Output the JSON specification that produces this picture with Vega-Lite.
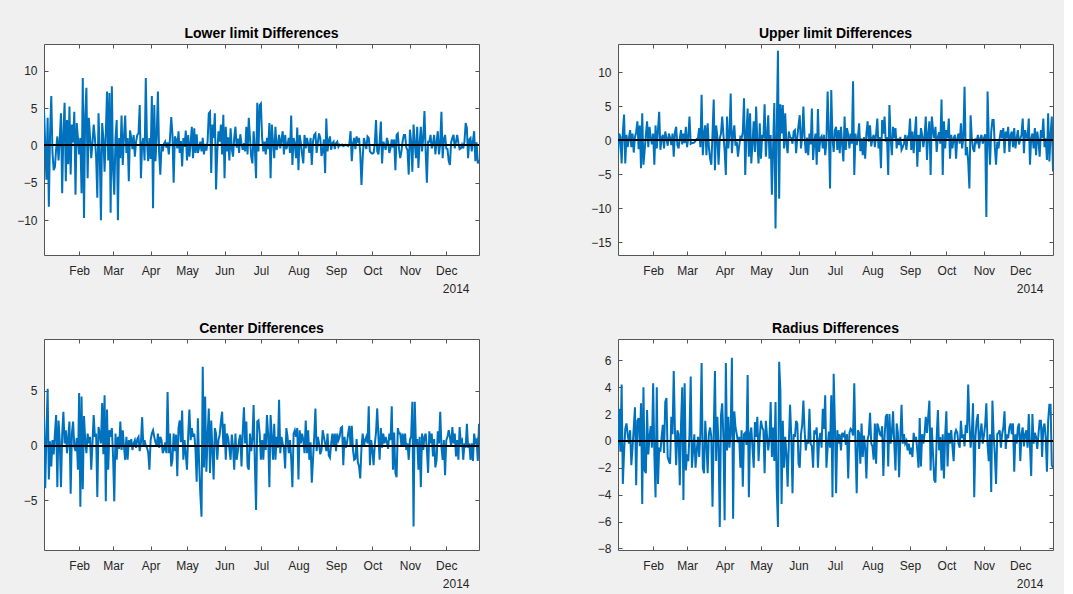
{
"$schema":"https://vega.github.io/schema/vega-lite/v6.json",
"padding":{"left":16,"top":26,"right":10,"bottom":4},
"bounds":"flush",
"columns":2,
"spacing":{"row":84,"column":139},
"datasets":{"d":[
{"t":"2014-01-03","a":4.8,"b":-2.2,"c":2.5,"r":-0.6},
{"t":"2014-01-04","a":0.2,"b":1.0,"c":-3.9,"r":2.4},
{"t":"2014-01-05","a":-4.6,"b":0.5,"c":1.0,"r":-0.8},
{"t":"2014-01-06","a":3.7,"b":-3.4,"c":5.2,"r":4.2},
{"t":"2014-01-07","a":-8.2,"b":1.2,"c":-3.1,"r":-3.2},
{"t":"2014-01-08","a":1.5,"b":3.8,"c":0.4,"r":-0.9},
{"t":"2014-01-09","a":6.6,"b":-3.4,"c":-1.9,"r":0.9},
{"t":"2014-01-10","a":-1.0,"b":0.8,"c":0.5,"r":1.3},
{"t":"2014-01-11","a":-3.3,"b":-1.0,"c":-0.8,"r":0.5},
{"t":"2014-01-12","a":-2.9,"b":0.3,"c":1.1,"r":-0.2},
{"t":"2014-01-13","a":-0.5,"b":1.5,"c":2.8,"r":0.8},
{"t":"2014-01-14","a":1.2,"b":-1.0,"c":-3.8,"r":-1.8},
{"t":"2014-01-15","a":-2.0,"b":1.0,"c":2.3,"r":-0.5},
{"t":"2014-01-16","a":0.9,"b":-1.8,"c":0.4,"r":1.0},
{"t":"2014-01-17","a":4.3,"b":0.5,"c":-3.8,"r":2.5},
{"t":"2014-01-18","a":-6.4,"b":1.2,"c":1.0,"r":-3.3},
{"t":"2014-01-19","a":1.8,"b":2.8,"c":3.1,"r":1.5},
{"t":"2014-01-20","a":5.7,"b":-1.3,"c":0.2,"r":1.7},
{"t":"2014-01-21","a":-4.8,"b":2.2,"c":1.4,"r":-0.4},
{"t":"2014-01-22","a":3.4,"b":-4.1,"c":-0.7,"r":2.8},
{"t":"2014-01-23","a":-2.5,"b":4.0,"c":0.8,"r":-4.7},
{"t":"2014-01-24","a":5.2,"b":-3.6,"c":2.2,"r":4.0},
{"t":"2014-01-25","a":-3.9,"b":-1.5,"c":-4.4,"r":-2.2},
{"t":"2014-01-26","a":2.8,"b":0.8,"c":1.1,"r":-2.4},
{"t":"2014-01-27","a":0.4,"b":2.8,"c":2.2,"r":2.3},
{"t":"2014-01-28","a":4.5,"b":-1.0,"c":-0.1,"r":-1.0},
{"t":"2014-01-29","a":-6.6,"b":2.0,"c":-0.5,"r":0.3},
{"t":"2014-01-30","a":3.0,"b":0.5,"c":0.7,"r":1.1},
{"t":"2014-01-31","a":1.0,"b":-0.6,"c":-2.2,"r":-0.5},
{"t":"2014-02-01","a":-1.2,"b":1.0,"c":4.8,"r":4.3},
{"t":"2014-02-02","a":1.0,"b":-3.6,"c":-5.6,"r":-1.0},
{"t":"2014-02-03","a":-6.4,"b":2.2,"c":4.5,"r":-4.2},
{"t":"2014-02-04","a":9.0,"b":-1.2,"c":-4.0,"r":4.0},
{"t":"2014-02-05","a":-9.7,"b":1.5,"c":2.7,"r":-3.2},
{"t":"2014-02-06","a":4.0,"b":4.2,"c":0.5,"r":-0.5},
{"t":"2014-02-07","a":7.7,"b":-1.4,"c":-0.7,"r":-0.8},
{"t":"2014-02-08","a":-4.4,"b":0.3,"c":1.1,"r":0.3},
{"t":"2014-02-09","a":3.7,"b":0.8,"c":0.2,"r":1.2},
{"t":"2014-02-10","a":1.2,"b":-1.2,"c":0.8,"r":-0.9},
{"t":"2014-02-11","a":-1.7,"b":1.3,"c":-2.2,"r":2.9},
{"t":"2014-02-12","a":0.3,"b":0.3,"c":0.2,"r":3.2},
{"t":"2014-02-13","a":2.8,"b":-0.8,"c":2.8,"r":-1.2},
{"t":"2014-02-14","a":1.0,"b":1.0,"c":0.8,"r":-1.5},
{"t":"2014-02-15","a":-1.5,"b":0.4,"c":1.1,"r":-1.7},
{"t":"2014-02-16","a":-7.0,"b":-0.7,"c":-4.7,"r":1.8},
{"t":"2014-02-17","a":4.3,"b":1.0,"c":1.7,"r":0.5},
{"t":"2014-02-18","a":-1.0,"b":-2.4,"c":1.1,"r":5.2},
{"t":"2014-02-19","a":-10.0,"b":1.2,"c":0.2,"r":0.8},
{"t":"2014-02-20","a":3.0,"b":2.0,"c":3.9,"r":-1.8},
{"t":"2014-02-21","a":1.0,"b":-0.7,"c":-0.8,"r":0.8},
{"t":"2014-02-22","a":-3.5,"b":-1.2,"c":4.6,"r":0.5},
{"t":"2014-02-23","a":1.5,"b":0.3,"c":-5.1,"r":-3.3},
{"t":"2014-02-24","a":7.2,"b":1.5,"c":3.3,"r":1.2},
{"t":"2014-02-25","a":-2.0,"b":-0.6,"c":-2.2,"r":4.0},
{"t":"2014-02-26","a":7.0,"b":1.0,"c":1.4,"r":-4.4},
{"t":"2014-02-27","a":-9.0,"b":-0.4,"c":0.8,"r":4.3},
{"t":"2014-02-28","a":7.9,"b":2.0,"c":1.6,"r":-2.2},
{"t":"2014-03-01","a":-3.3,"b":-1.0,"c":-1.0,"r":-1.0},
{"t":"2014-03-02","a":-6.6,"b":0.4,"c":-5.1,"r":-1.5},
{"t":"2014-03-03","a":1.0,"b":3.5,"c":1.1,"r":0.5},
{"t":"2014-03-04","a":3.4,"b":-0.5,"c":-1.3,"r":4.8},
{"t":"2014-03-05","a":-10.0,"b":-0.4,"c":0.8,"r":-2.0},
{"t":"2014-03-06","a":1.0,"b":-0.4,"c":-0.3,"r":-0.7},
{"t":"2014-03-07","a":-1.7,"b":-0.3,"c":2.2,"r":0.5},
{"t":"2014-03-08","a":4.0,"b":-0.1,"c":-0.4,"r":-2.0},
{"t":"2014-03-09","a":-2.6,"b":0.2,"c":1.4,"r":-0.7},
{"t":"2014-03-10","a":1.2,"b":0.3,"c":-0.1,"r":0.3},
{"t":"2014-03-11","a":4.0,"b":1.8,"c":-1.3,"r":-1.2},
{"t":"2014-03-12","a":-1.0,"b":-1.0,"c":0.8,"r":0.6},
{"t":"2014-03-13","a":1.0,"b":6.7,"c":-1.3,"r":5.8},
{"t":"2014-03-14","a":-4.8,"b":-2.2,"c":0.5,"r":-2.0},
{"t":"2014-03-15","a":2.0,"b":1.0,"c":-0.1,"r":-2.4},
{"t":"2014-03-16","a":1.0,"b":2.2,"c":0.6,"r":1.5},
{"t":"2014-03-17","a":-0.5,"b":-2.2,"c":-0.4,"r":-0.2},
{"t":"2014-03-18","a":1.4,"b":2.5,"c":0.2,"r":-2.4},
{"t":"2014-03-19","a":-1.5,"b":-1.0,"c":0.5,"r":0.5},
{"t":"2014-03-20","a":0.5,"b":-2.7,"c":-0.2,"r":1.0},
{"t":"2014-03-21","a":1.4,"b":-3.6,"c":0.6,"r":0.3},
{"t":"2014-03-22","a":1.6,"b":1.0,"c":0.8,"r":-4.9},
{"t":"2014-03-23","a":5.4,"b":6.0,"c":-0.5,"r":0.6},
{"t":"2014-03-24","a":-4.4,"b":-4.4,"c":0.3,"r":5.2},
{"t":"2014-03-25","a":0.3,"b":2.2,"c":2.6,"r":-1.5},
{"t":"2014-03-26","a":1.0,"b":0.5,"c":-0.1,"r":1.8},
{"t":"2014-03-27","a":-2.0,"b":-3.6,"c":0.5,"r":-0.4},
{"t":"2014-03-28","a":9.0,"b":0.3,"c":0.0,"r":-6.4},
{"t":"2014-03-29","a":0.5,"b":1.0,"c":-0.2,"r":1.9},
{"t":"2014-03-30","a":-2.1,"b":3.5,"c":-0.6,"r":2.8},
{"t":"2014-03-31","a":1.0,"b":0.8,"c":-2.2,"r":0.2},
{"t":"2014-04-01","a":-1.8,"b":-1.5,"c":0.5,"r":-5.9},
{"t":"2014-04-02","a":6.6,"b":-5.1,"c":1.1,"r":5.8},
{"t":"2014-04-03","a":-8.4,"b":3.5,"c":1.4,"r":-0.7},
{"t":"2014-04-04","a":5.4,"b":-1.2,"c":0.8,"r":1.8},
{"t":"2014-04-05","a":-2.1,"b":0.8,"c":0.3,"r":-0.5},
{"t":"2014-04-06","a":1.2,"b":6.9,"c":-0.1,"r":0.8},
{"t":"2014-04-07","a":7.2,"b":-1.9,"c":1.1,"r":6.2},
{"t":"2014-04-08","a":-1.0,"b":0.8,"c":-0.2,"r":-5.8},
{"t":"2014-04-09","a":-3.9,"b":2.2,"c":0.8,"r":2.2},
{"t":"2014-04-10","a":0.1,"b":-0.8,"c":0.5,"r":1.0},
{"t":"2014-04-11","a":-0.8,"b":-0.2,"c":-0.7,"r":0.5},
{"t":"2014-04-12","a":0.2,"b":-2.4,"c":-0.4,"r":-0.1},
{"t":"2014-04-13","a":0.5,"b":-0.9,"c":0.3,"r":0.3},
{"t":"2014-04-14","a":-0.3,"b":0.5,"c":-0.7,"r":-2.0},
{"t":"2014-04-15","a":0.4,"b":0.3,"c":4.9,"r":0.8},
{"t":"2014-04-16","a":-1.2,"b":1.2,"c":-0.7,"r":-3.4},
{"t":"2014-04-17","a":1.0,"b":6.2,"c":1.1,"r":0.5},
{"t":"2014-04-18","a":3.8,"b":-5.1,"c":-1.9,"r":0.6},
{"t":"2014-04-19","a":1.5,"b":1.0,"c":-1.3,"r":-0.3},
{"t":"2014-04-20","a":-5.0,"b":4.7,"c":1.1,"r":4.9},
{"t":"2014-04-21","a":1.2,"b":-2.4,"c":-0.5,"r":-4.2},
{"t":"2014-04-22","a":0.8,"b":4.0,"c":1.0,"r":0.5},
{"t":"2014-04-23","a":-0.4,"b":-3.4,"c":-2.8,"r":1.0},
{"t":"2014-04-24","a":1.9,"b":-0.5,"c":1.6,"r":-0.5},
{"t":"2014-04-25","a":-1.0,"b":2.8,"c":2.3,"r":-2.0},
{"t":"2014-04-26","a":0.6,"b":-1.7,"c":0.3,"r":1.4},
{"t":"2014-04-27","a":-2.8,"b":5.0,"c":3.2,"r":0.3},
{"t":"2014-04-28","a":1.0,"b":-0.4,"c":-1.3,"r":1.8},
{"t":"2014-04-29","a":-0.2,"b":-3.4,"c":0.5,"r":-1.5},
{"t":"2014-04-30","a":2.0,"b":2.5,"c":-0.8,"r":0.3},
{"t":"2014-05-01","a":-2.0,"b":-2.7,"c":-2.2,"r":1.5},
{"t":"2014-05-02","a":1.4,"b":0.8,"c":1.0,"r":1.0},
{"t":"2014-05-03","a":-1.5,"b":0.3,"c":3.3,"r":0.8},
{"t":"2014-05-04","a":0.3,"b":5.3,"c":0.5,"r":-2.4},
{"t":"2014-05-05","a":2.5,"b":-2.4,"c":1.6,"r":1.5},
{"t":"2014-05-06","a":-1.7,"b":0.7,"c":0.8,"r":0.4},
{"t":"2014-05-07","a":2.3,"b":3.7,"c":1.1,"r":-0.7},
{"t":"2014-05-08","a":-1.0,"b":-2.7,"c":-0.3,"r":0.2},
{"t":"2014-05-09","a":1.5,"b":0.8,"c":-3.3,"r":2.9},
{"t":"2014-05-10","a":-1.0,"b":-8.0,"c":2.5,"r":-1.2},
{"t":"2014-05-11","a":-0.3,"b":-1.0,"c":-1.5,"r":1.0},
{"t":"2014-05-12","a":0.5,"b":5.5,"c":-4.4,"r":-1.5},
{"t":"2014-05-13","a":-0.8,"b":-13.0,"c":-6.5,"r":2.9},
{"t":"2014-05-14","a":1.0,"b":1.5,"c":7.2,"r":-3.5},
{"t":"2014-05-15","a":-1.2,"b":13.2,"c":-2.0,"r":-6.4},
{"t":"2014-05-16","a":0.2,"b":-8.6,"c":4.5,"r":5.9},
{"t":"2014-05-17","a":-0.7,"b":5.3,"c":-2.4,"r":3.8},
{"t":"2014-05-18","a":0.5,"b":1.0,"c":0.8,"r":-4.7},
{"t":"2014-05-19","a":4.3,"b":5.2,"c":3.4,"r":1.5},
{"t":"2014-05-20","a":4.5,"b":-1.2,"c":-2.5,"r":-2.0},
{"t":"2014-05-21","a":-3.7,"b":4.0,"c":2.3,"r":0.3},
{"t":"2014-05-22","a":2.8,"b":-0.6,"c":-0.5,"r":-1.0},
{"t":"2014-05-23","a":1.0,"b":-1.9,"c":-3.1,"r":-3.4},
{"t":"2014-05-24","a":4.3,"b":1.3,"c":1.6,"r":-0.1},
{"t":"2014-05-25","a":-5.9,"b":0.5,"c":1.1,"r":2.7},
{"t":"2014-05-26","a":-0.8,"b":0.3,"c":-1.3,"r":0.4},
{"t":"2014-05-27","a":1.9,"b":-0.5,"c":0.5,"r":-3.9},
{"t":"2014-05-28","a":0.5,"b":1.3,"c":1.0,"r":0.5},
{"t":"2014-05-29","a":2.8,"b":1.5,"c":2.2,"r":0.3},
{"t":"2014-05-30","a":-1.2,"b":-1.9,"c":3.1,"r":1.5},
{"t":"2014-05-31","a":4.1,"b":0.5,"c":-0.1,"r":1.3},
{"t":"2014-06-01","a":-4.4,"b":2.2,"c":2.0,"r":-1.7},
{"t":"2014-06-02","a":2.5,"b":3.7,"c":-1.3,"r":-2.0},
{"t":"2014-06-03","a":-0.8,"b":-1.2,"c":1.1,"r":0.5},
{"t":"2014-06-04","a":1.1,"b":0.6,"c":0.7,"r":1.2},
{"t":"2014-06-05","a":-2.0,"b":5.0,"c":-0.3,"r":3.0},
{"t":"2014-06-06","a":2.3,"b":0.3,"c":-1.3,"r":0.8},
{"t":"2014-06-07","a":-0.5,"b":-1.9,"c":1.0,"r":-0.7},
{"t":"2014-06-08","a":-1.5,"b":0.4,"c":-0.1,"r":0.1},
{"t":"2014-06-09","a":1.0,"b":-2.2,"c":-2.2,"r":-0.2},
{"t":"2014-06-10","a":2.5,"b":1.0,"c":1.1,"r":2.4},
{"t":"2014-06-11","a":-0.3,"b":-0.6,"c":-1.3,"r":-0.2},
{"t":"2014-06-12","a":0.9,"b":4.7,"c":-0.5,"r":-0.4},
{"t":"2014-06-13","a":-1.0,"b":-2.9,"c":0.5,"r":-2.0},
{"t":"2014-06-14","a":1.5,"b":-0.2,"c":1.0,"r":0.8},
{"t":"2014-06-15","a":0.2,"b":1.0,"c":-1.9,"r":0.5},
{"t":"2014-06-16","a":-0.6,"b":-3.6,"c":1.2,"r":1.0},
{"t":"2014-06-17","a":0.3,"b":4.6,"c":3.5,"r":-2.0},
{"t":"2014-06-18","a":-0.8,"b":-1.7,"c":0.2,"r":0.1},
{"t":"2014-06-19","a":2.5,"b":0.3,"c":2.2,"r":0.6},
{"t":"2014-06-20","a":-1.2,"b":0.6,"c":-1.9,"r":-0.5},
{"t":"2014-06-21","a":3.7,"b":-1.2,"c":-2.2,"r":2.4},
{"t":"2014-06-22","a":1.0,"b":0.8,"c":1.1,"r":0.9},
{"t":"2014-06-23","a":-1.5,"b":-2.2,"c":-0.5,"r":3.4},
{"t":"2014-06-24","a":-2.4,"b":-0.2,"c":0.6,"r":-2.0},
{"t":"2014-06-25","a":1.9,"b":7.2,"c":3.7,"r":-0.5},
{"t":"2014-06-26","a":-0.4,"b":1.0,"c":-1.5,"r":0.7},
{"t":"2014-06-27","a":-4.4,"b":-7.1,"c":-5.9,"r":-0.5},
{"t":"2014-06-28","a":5.7,"b":7.4,"c":2.2,"r":3.4},
{"t":"2014-06-29","a":-0.8,"b":0.3,"c":2.3,"r":-4.2},
{"t":"2014-06-30","a":5.4,"b":-1.7,"c":1.1,"r":5.0},
{"t":"2014-07-01","a":5.6,"b":1.5,"c":-1.3,"r":1.3},
{"t":"2014-07-02","a":1.0,"b":2.0,"c":0.5,"r":-3.9},
{"t":"2014-07-03","a":-0.8,"b":-1.4,"c":-1.3,"r":0.8},
{"t":"2014-07-04","a":0.5,"b":1.5,"c":1.1,"r":-0.2},
{"t":"2014-07-05","a":-1.2,"b":-1.9,"c":-0.4,"r":0.5},
{"t":"2014-07-06","a":1.0,"b":2.0,"c":2.8,"r":-0.7},
{"t":"2014-07-07","a":-0.5,"b":-0.6,"c":1.0,"r":0.6},
{"t":"2014-07-08","a":3.0,"b":-3.1,"c":-3.8,"r":0.4},
{"t":"2014-07-09","a":-4.4,"b":3.5,"c":2.8,"r":0.6},
{"t":"2014-07-10","a":2.8,"b":-1.4,"c":0.9,"r":-0.3},
{"t":"2014-07-11","a":0.4,"b":1.8,"c":-1.3,"r":0.5},
{"t":"2014-07-12","a":-1.7,"b":0.8,"c":2.0,"r":-2.8},
{"t":"2014-07-13","a":2.5,"b":-1.2,"c":-1.3,"r":0.6},
{"t":"2014-07-14","a":-0.6,"b":1.0,"c":0.8,"r":0.9},
{"t":"2014-07-15","a":0.1,"b":-0.5,"c":-0.2,"r":0.8},
{"t":"2014-07-16","a":1.4,"b":8.7,"c":4.2,"r":0.4},
{"t":"2014-07-17","a":-0.4,"b":-5.1,"c":-0.7,"r":4.3},
{"t":"2014-07-18","a":0.8,"b":1.0,"c":0.8,"r":-0.5},
{"t":"2014-07-19","a":1.9,"b":-0.7,"c":0.2,"r":-3.9},
{"t":"2014-07-20","a":-1.2,"b":0.4,"c":-0.2,"r":0.8},
{"t":"2014-07-21","a":1.4,"b":2.5,"c":-2.1,"r":0.6},
{"t":"2014-07-22","a":-0.5,"b":-1.6,"c":1.6,"r":-1.7},
{"t":"2014-07-23","a":0.1,"b":0.3,"c":0.8,"r":1.3},
{"t":"2014-07-24","a":1.0,"b":-2.2,"c":-0.7,"r":-1.2},
{"t":"2014-07-25","a":-1.0,"b":0.5,"c":0.5,"r":0.4},
{"t":"2014-07-26","a":4.0,"b":-2.7,"c":-1.2,"r":-0.5},
{"t":"2014-07-27","a":-2.6,"b":1.0,"c":-3.8,"r":-2.8},
{"t":"2014-07-28","a":1.0,"b":2.8,"c":1.1,"r":0.1},
{"t":"2014-07-29","a":0.2,"b":-0.2,"c":1.4,"r":0.5},
{"t":"2014-07-30","a":-1.7,"b":2.2,"c":0.8,"r":2.1},
{"t":"2014-07-31","a":2.4,"b":-0.9,"c":1.6,"r":-0.2},
{"t":"2014-08-01","a":-3.3,"b":0.3,"c":-3.1,"r":-0.4},
{"t":"2014-08-02","a":1.4,"b":0.8,"c":1.4,"r":-1.4},
{"t":"2014-08-03","a":0.3,"b":-1.0,"c":0.2,"r":1.3},
{"t":"2014-08-04","a":-1.2,"b":0.9,"c":1.1,"r":-1.7},
{"t":"2014-08-05","a":-2.4,"b":3.2,"c":0.5,"r":1.3},
{"t":"2014-08-06","a":1.4,"b":-1.2,"c":-0.7,"r":1.0},
{"t":"2014-08-07","a":-0.4,"b":0.5,"c":2.3,"r":0.5},
{"t":"2014-08-08","a":1.0,"b":-4.1,"c":-0.7,"r":0.4},
{"t":"2014-08-09","a":0.2,"b":3.0,"c":1.4,"r":1.1},
{"t":"2014-08-10","a":-1.0,"b":1.0,"c":-1.3,"r":-2.6},
{"t":"2014-08-11","a":1.0,"b":3.5,"c":0.3,"r":0.3},
{"t":"2014-08-12","a":-2.6,"b":-0.2,"c":-3.4,"r":1.8},
{"t":"2014-08-13","a":0.5,"b":0.5,"c":-1.3,"r":2.0},
{"t":"2014-08-14","a":1.4,"b":-5.1,"c":0.8,"r":-1.9},
{"t":"2014-08-15","a":1.6,"b":5.2,"c":3.4,"r":2.0},
{"t":"2014-08-16","a":-1.0,"b":0.3,"c":-0.5,"r":-0.2},
{"t":"2014-08-17","a":0.4,"b":-2.2,"c":0.8,"r":0.6},
{"t":"2014-08-18","a":1.6,"b":2.0,"c":0.2,"r":2.2},
{"t":"2014-08-19","a":1.0,"b":0.3,"c":-0.8,"r":-0.2},
{"t":"2014-08-20","a":-1.4,"b":1.8,"c":-0.4,"r":-2.2},
{"t":"2014-08-21","a":-0.8,"b":-1.2,"c":1.4,"r":1.3},
{"t":"2014-08-22","a":0.8,"b":0.3,"c":0.8,"r":0.6},
{"t":"2014-08-23","a":-3.7,"b":-0.7,"c":0.2,"r":-2.7},
{"t":"2014-08-24","a":3.6,"b":0.5,"c":-0.5,"r":0.2},
{"t":"2014-08-25","a":-0.8,"b":-1.4,"c":1.1,"r":2.7},
{"t":"2014-08-26","a":0.6,"b":-1.0,"c":-0.9,"r":-0.2},
{"t":"2014-08-27","a":1.2,"b":-0.5,"c":-1.1,"r":0.5},
{"t":"2014-08-28","a":-0.6,"b":0.8,"c":0.2,"r":-0.2},
{"t":"2014-08-29","a":0.3,"b":-1.4,"c":1.1,"r":0.0},
{"t":"2014-08-30","a":0.5,"b":0.5,"c":-0.1,"r":-0.7},
{"t":"2014-08-31","a":-0.5,"b":0.3,"c":1.1,"r":-0.2},
{"t":"2014-09-01","a":0.3,"b":3.2,"c":-0.5,"r":-1.0},
{"t":"2014-09-02","a":0.5,"b":-1.4,"c":1.1,"r":-0.5},
{"t":"2014-09-03","a":-0.2,"b":1.3,"c":0.5,"r":-1.2},
{"t":"2014-09-04","a":0.1,"b":-1.9,"c":0.8,"r":0.6},
{"t":"2014-09-05","a":0.0,"b":1.0,"c":1.6,"r":0.0},
{"t":"2014-09-06","a":0.1,"b":3.5,"c":1.7,"r":0.3},
{"t":"2014-09-07","a":-0.1,"b":-3.9,"c":-1.8,"r":-0.7},
{"t":"2014-09-08","a":0.0,"b":0.8,"c":0.8,"r":-2.0},
{"t":"2014-09-09","a":0.1,"b":-1.7,"c":-0.2,"r":1.7},
{"t":"2014-09-10","a":0.0,"b":1.8,"c":0.2,"r":-1.9},
{"t":"2014-09-11","a":-0.1,"b":0.8,"c":1.1,"r":0.5},
{"t":"2014-09-12","a":0.2,"b":-1.0,"c":1.8,"r":-0.2},
{"t":"2014-09-13","a":1.9,"b":0.5,"c":-0.1,"r":0.5},
{"t":"2014-09-14","a":-2.1,"b":3.5,"c":1.8,"r":1.8},
{"t":"2014-09-15","a":0.3,"b":-2.9,"c":-0.4,"r":0.6},
{"t":"2014-09-16","a":1.0,"b":1.0,"c":-1.3,"r":1.8},
{"t":"2014-09-17","a":-0.5,"b":2.8,"c":-1.2,"r":3.0},
{"t":"2014-09-18","a":1.2,"b":-5.1,"c":0.6,"r":-2.2},
{"t":"2014-09-19","a":0.4,"b":3.5,"c":-1.5,"r":1.0},
{"t":"2014-09-20","a":1.0,"b":1.5,"c":-1.9,"r":-1.0},
{"t":"2014-09-21","a":-1.0,"b":0.3,"c":-3.0,"r":-2.9},
{"t":"2014-09-22","a":-5.3,"b":2.0,"c":-0.2,"r":-3.1},
{"t":"2014-09-23","a":-1.7,"b":-1.7,"c":1.1,"r":0.3},
{"t":"2014-09-24","a":1.0,"b":0.5,"c":-0.1,"r":2.3},
{"t":"2014-09-25","a":0.3,"b":1.2,"c":0.5,"r":-0.7},
{"t":"2014-09-26","a":-0.5,"b":-0.5,"c":0.8,"r":0.3},
{"t":"2014-09-27","a":1.2,"b":6.0,"c":0.2,"r":-2.2},
{"t":"2014-09-28","a":1.0,"b":-5.1,"c":3.6,"r":0.5},
{"t":"2014-09-29","a":-0.8,"b":2.8,"c":-1.8,"r":-2.8},
{"t":"2014-09-30","a":-1.0,"b":-1.2,"c":0.5,"r":0.4},
{"t":"2014-10-01","a":-1.1,"b":1.5,"c":-0.4,"r":2.2},
{"t":"2014-10-02","a":-1.0,"b":0.3,"c":-1.8,"r":-1.9},
{"t":"2014-10-03","a":0.2,"b":3.2,"c":0.1,"r":0.6},
{"t":"2014-10-04","a":3.4,"b":-2.7,"c":1.2,"r":-0.2},
{"t":"2014-10-05","a":-0.8,"b":0.8,"c":3.4,"r":0.8},
{"t":"2014-10-06","a":-1.2,"b":-1.2,"c":0.8,"r":-0.4},
{"t":"2014-10-07","a":0.5,"b":0.3,"c":-1.3,"r":-1.5},
{"t":"2014-10-08","a":3.2,"b":0.8,"c":1.6,"r":0.5},
{"t":"2014-10-09","a":-2.4,"b":-2.7,"c":-0.2,"r":0.8},
{"t":"2014-10-10","a":0.5,"b":0.3,"c":1.1,"r":0.6},
{"t":"2014-10-11","a":0.1,"b":1.0,"c":0.2,"r":-0.2},
{"t":"2014-10-12","a":-0.6,"b":-0.5,"c":0.8,"r":-0.5},
{"t":"2014-10-13","a":1.0,"b":2.5,"c":0.3,"r":1.5},
{"t":"2014-10-14","a":0.4,"b":-1.2,"c":-0.3,"r":0.2},
{"t":"2014-10-15","a":-1.0,"b":0.4,"c":1.1,"r":0.5},
{"t":"2014-10-16","a":-0.4,"b":7.9,"c":0.5,"r":-0.4},
{"t":"2014-10-17","a":0.8,"b":-2.2,"c":3.6,"r":1.2},
{"t":"2014-10-18","a":-0.3,"b":-1.0,"c":-2.2,"r":0.6},
{"t":"2014-10-19","a":0.8,"b":-3.1,"c":1.2,"r":4.2},
{"t":"2014-10-20","a":-3.3,"b":-7.1,"c":-2.5,"r":1.3},
{"t":"2014-10-21","a":1.4,"b":3.7,"c":-2.9,"r":-0.5},
{"t":"2014-10-22","a":1.6,"b":0.3,"c":1.6,"r":0.6},
{"t":"2014-10-23","a":-0.5,"b":-1.2,"c":1.1,"r":2.8},
{"t":"2014-10-24","a":-1.7,"b":-1.7,"c":1.1,"r":-4.2},
{"t":"2014-10-25","a":-0.8,"b":0.3,"c":0.0,"r":0.3},
{"t":"2014-10-26","a":0.6,"b":-0.2,"c":1.1,"r":1.5},
{"t":"2014-10-27","a":1.4,"b":0.8,"c":-0.1,"r":2.0},
{"t":"2014-10-28","a":1.4,"b":-1.2,"c":1.1,"r":-0.6},
{"t":"2014-10-29","a":-0.3,"b":0.3,"c":-0.4,"r":0.5},
{"t":"2014-10-30","a":-0.6,"b":0.8,"c":0.2,"r":1.3},
{"t":"2014-10-31","a":-3.9,"b":-0.5,"c":-1.3,"r":-0.2},
{"t":"2014-11-01","a":2.1,"b":0.3,"c":0.5,"r":0.4},
{"t":"2014-11-02","a":0.5,"b":0.9,"c":0.9,"r":1.2},
{"t":"2014-11-03","a":-3.5,"b":-11.3,"c":4.0,"r":2.8},
{"t":"2014-11-04","a":2.8,"b":7.2,"c":-7.4,"r":-0.3},
{"t":"2014-11-05","a":0.2,"b":0.3,"c":4.0,"r":-1.5},
{"t":"2014-11-06","a":-1.7,"b":-3.6,"c":-0.1,"r":0.5},
{"t":"2014-11-07","a":2.5,"b":1.2,"c":0.6,"r":-3.8},
{"t":"2014-11-08","a":-3.0,"b":3.0,"c":-2.2,"r":3.0},
{"t":"2014-11-09","a":0.3,"b":3.0,"c":0.8,"r":0.5},
{"t":"2014-11-10","a":2.5,"b":-1.0,"c":-3.8,"r":-1.0},
{"t":"2014-11-11","a":-0.8,"b":-3.6,"c":1.1,"r":-3.2},
{"t":"2014-11-12","a":1.0,"b":-0.2,"c":-0.4,"r":0.5},
{"t":"2014-11-13","a":4.6,"b":-1.2,"c":0.8,"r":0.6},
{"t":"2014-11-14","a":-0.8,"b":0.3,"c":1.1,"r":0.8},
{"t":"2014-11-15","a":-5.0,"b":1.5,"c":-0.4,"r":-0.5},
{"t":"2014-11-16","a":0.5,"b":0.3,"c":-2.5,"r":0.5},
{"t":"2014-11-17","a":0.5,"b":1.8,"c":1.3,"r":1.0},
{"t":"2014-11-18","a":1.4,"b":-1.9,"c":0.2,"r":2.2},
{"t":"2014-11-19","a":-0.4,"b":1.3,"c":1.1,"r":-0.6},
{"t":"2014-11-20","a":0.2,"b":0.3,"c":-1.0,"r":0.5},
{"t":"2014-11-21","a":1.4,"b":2.0,"c":0.6,"r":0.2},
{"t":"2014-11-22","a":-1.2,"b":-1.7,"c":-2.0,"r":1.0},
{"t":"2014-11-23","a":0.4,"b":0.8,"c":-1.3,"r":1.3},
{"t":"2014-11-24","a":1.9,"b":1.3,"c":1.3,"r":0.5},
{"t":"2014-11-25","a":-1.2,"b":-1.0,"c":0.2,"r":1.3},
{"t":"2014-11-26","a":0.3,"b":1.8,"c":3.1,"r":-2.3},
{"t":"2014-11-27","a":4.5,"b":-1.2,"c":-0.1,"r":0.5},
{"t":"2014-11-28","a":-1.7,"b":0.3,"c":-1.3,"r":-0.2},
{"t":"2014-11-29","a":0.8,"b":1.5,"c":0.5,"r":1.0},
{"t":"2014-11-30","a":1.4,"b":-0.6,"c":-2.7,"r":1.3},
{"t":"2014-12-01","a":-0.4,"b":0.2,"c":0.5,"r":-1.5},
{"t":"2014-12-02","a":-0.5,"b":0.8,"c":0.8,"r":0.5},
{"t":"2014-12-03","a":-2.1,"b":3.2,"c":1.4,"r":1.0},
{"t":"2014-12-04","a":-2.6,"b":-1.9,"c":0.8,"r":-0.4},
{"t":"2014-12-05","a":0.4,"b":1.5,"c":-0.1,"r":0.5},
{"t":"2014-12-06","a":1.0,"b":0.5,"c":1.7,"r":0.8},
{"t":"2014-12-07","a":1.4,"b":0.3,"c":0.2,"r":-0.5},
{"t":"2014-12-08","a":-0.4,"b":3.2,"c":1.1,"r":2.0},
{"t":"2014-12-09","a":0.5,"b":-3.6,"c":-1.0,"r":-0.4},
{"t":"2014-12-10","a":1.4,"b":0.3,"c":0.5,"r":-2.6},
{"t":"2014-12-11","a":0.3,"b":1.0,"c":-1.3,"r":2.0},
{"t":"2014-12-12","a":-0.5,"b":-1.2,"c":1.7,"r":-0.2},
{"t":"2014-12-13","a":-0.4,"b":1.8,"c":0.3,"r":0.6},
{"t":"2014-12-14","a":0.1,"b":-2.2,"c":0.5,"r":0.3},
{"t":"2014-12-15","a":-0.4,"b":1.3,"c":-1.3,"r":-0.6},
{"t":"2014-12-16","a":0.5,"b":0.0,"c":0.2,"r":0.5},
{"t":"2014-12-17","a":3.0,"b":-2.4,"c":-0.2,"r":1.5},
{"t":"2014-12-18","a":2.3,"b":1.5,"c":2.0,"r":1.5},
{"t":"2014-12-19","a":-1.7,"b":0.3,"c":-0.2,"r":-1.2},
{"t":"2014-12-20","a":0.8,"b":3.2,"c":0.2,"r":1.0},
{"t":"2014-12-21","a":1.0,"b":-1.0,"c":-1.3,"r":1.3},
{"t":"2014-12-22","a":-0.8,"b":0.3,"c":0.2,"r":0.2},
{"t":"2014-12-23","a":0.6,"b":-2.9,"c":-1.4,"r":-2.3},
{"t":"2014-12-24","a":1.9,"b":4.0,"c":1.1,"r":1.5},
{"t":"2014-12-25","a":-2.1,"b":-3.1,"c":0.3,"r":2.7},
{"t":"2014-12-26","a":0.4,"b":0.8,"c":0.5,"r":2.7},
{"t":"2014-12-27","a":-2.4,"b":3.5,"c":-1.4,"r":-1.8},
{"t":"2014-12-28","a":-1.9,"b":-4.6,"c":2.0,"r":-2.0}
]},
"concat":[
{"width":435,"height":211,
 "title":{"text":"Lower limit Differences","fontSize":14,"fontWeight":"bold","font":"Liberation Sans","color":"#000000","frame":"group","anchor":"middle","offset":-8,"baseline":"alphabetic"},
 "data":{"name":"d"},
 "layer":[
  {"mark":{"type":"line","color":"#0072BD","strokeWidth":2,"clip":true},
   "encoding":{
    "x":{"field":"t","type":"temporal","scale":{"type":"utc","domain":[{"year":2014,"month":1,"date":3,"utc":true},{"year":2014,"month":12,"date":28,"utc":true}]},
     "axis":{"orient":"bottom","values":[{"year":2014,"month":2,"date":1,"utc":true},{"year":2014,"month":3,"date":1,"utc":true},{"year":2014,"month":4,"date":1,"utc":true},{"year":2014,"month":5,"date":1,"utc":true},{"year":2014,"month":6,"date":1,"utc":true},{"year":2014,"month":7,"date":1,"utc":true},{"year":2014,"month":8,"date":1,"utc":true},{"year":2014,"month":9,"date":1,"utc":true},{"year":2014,"month":10,"date":1,"utc":true},{"year":2014,"month":11,"date":1,"utc":true},{"year":2014,"month":12,"date":1,"utc":true}],"labelExpr":"utcFormat(datum.value, '%b')","labelFontSize":12,"labelColor":"#262626","tickSize":-4,"tickColor":"#555555","labelPadding":14,"domain":false,"grid":false,"labelOverlap":false,"labelFlush":false,"title":"2014","titleFontSize":12,"titleFontWeight":"normal","titleColor":"#262626","titleX":425,"titleY":37,"titleAlign":"right","titleBaseline":"alphabetic"}},
    "y":{"field":"a","type":"quantitative","scale":{"domain":[-14.65,13.56],"nice":false,"zero":false},
     "axis":{"orient":"left","values":[-10,-5,0,5,10],"labelFontSize":12,"labelColor":"#262626","tickSize":-4,"tickColor":"#555555","labelPadding":11,"domain":false,"grid":false,"title":null}}
   }},
  {"mark":{"type":"rule","color":"#000000","strokeWidth":1},"encoding":{"y":{"datum":0,"type":"quantitative","axis":null}}},
  {"mark":{"type":"line","strokeOpacity":0,"clip":true},
   "encoding":{
    "x":{"field":"t","type":"temporal","scale":{"type":"utc"},"axis":{"orient":"top","values":[{"year":2014,"month":2,"date":1,"utc":true},{"year":2014,"month":3,"date":1,"utc":true},{"year":2014,"month":4,"date":1,"utc":true},{"year":2014,"month":5,"date":1,"utc":true},{"year":2014,"month":6,"date":1,"utc":true},{"year":2014,"month":7,"date":1,"utc":true},{"year":2014,"month":8,"date":1,"utc":true},{"year":2014,"month":9,"date":1,"utc":true},{"year":2014,"month":10,"date":1,"utc":true},{"year":2014,"month":11,"date":1,"utc":true},{"year":2014,"month":12,"date":1,"utc":true}],"labels":false,"tickSize":-4,"tickColor":"#555555","domain":false,"grid":false,"title":null}},
    "y":{"field":"a","type":"quantitative","axis":{"orient":"right","values":[-10,-5,0,5,10],"labels":false,"tickSize":-4,"tickColor":"#555555","domain":false,"grid":false,"title":null}}
   }}
 ],
 "resolve":{"axis":{"x":"independent","y":"independent"}}
},
{"width":435,"height":211,
 "title":{"text":"Upper limit Differences","fontSize":14,"fontWeight":"bold","font":"Liberation Sans","color":"#000000","frame":"group","anchor":"middle","offset":-8,"baseline":"alphabetic"},
 "data":{"name":"d"},
 "layer":[
  {"mark":{"type":"line","color":"#0072BD","strokeWidth":2,"clip":true},
   "encoding":{
    "x":{"field":"t","type":"temporal","scale":{"type":"utc","domain":[{"year":2014,"month":1,"date":3,"utc":true},{"year":2014,"month":12,"date":28,"utc":true}]},
     "axis":{"orient":"bottom","values":[{"year":2014,"month":2,"date":1,"utc":true},{"year":2014,"month":3,"date":1,"utc":true},{"year":2014,"month":4,"date":1,"utc":true},{"year":2014,"month":5,"date":1,"utc":true},{"year":2014,"month":6,"date":1,"utc":true},{"year":2014,"month":7,"date":1,"utc":true},{"year":2014,"month":8,"date":1,"utc":true},{"year":2014,"month":9,"date":1,"utc":true},{"year":2014,"month":10,"date":1,"utc":true},{"year":2014,"month":11,"date":1,"utc":true},{"year":2014,"month":12,"date":1,"utc":true}],"labelExpr":"utcFormat(datum.value, '%b')","labelFontSize":12,"labelColor":"#262626","tickSize":-4,"tickColor":"#555555","labelPadding":14,"domain":false,"grid":false,"labelOverlap":false,"labelFlush":false,"title":"2014","titleFontSize":12,"titleFontWeight":"normal","titleColor":"#262626","titleX":425,"titleY":37,"titleAlign":"right","titleBaseline":"alphabetic"}},
    "y":{"field":"b","type":"quantitative","scale":{"domain":[-16.9,14.2],"nice":false,"zero":false},
     "axis":{"orient":"left","values":[-15,-10,-5,0,5,10],"labelFontSize":12,"labelColor":"#262626","tickSize":-4,"tickColor":"#555555","labelPadding":11,"domain":false,"grid":false,"title":null}}
   }},
  {"mark":{"type":"rule","color":"#000000","strokeWidth":1},"encoding":{"y":{"datum":0,"type":"quantitative","axis":null}}},
  {"mark":{"type":"line","strokeOpacity":0,"clip":true},
   "encoding":{
    "x":{"field":"t","type":"temporal","scale":{"type":"utc"},"axis":{"orient":"top","values":[{"year":2014,"month":2,"date":1,"utc":true},{"year":2014,"month":3,"date":1,"utc":true},{"year":2014,"month":4,"date":1,"utc":true},{"year":2014,"month":5,"date":1,"utc":true},{"year":2014,"month":6,"date":1,"utc":true},{"year":2014,"month":7,"date":1,"utc":true},{"year":2014,"month":8,"date":1,"utc":true},{"year":2014,"month":9,"date":1,"utc":true},{"year":2014,"month":10,"date":1,"utc":true},{"year":2014,"month":11,"date":1,"utc":true},{"year":2014,"month":12,"date":1,"utc":true}],"labels":false,"tickSize":-4,"tickColor":"#555555","domain":false,"grid":false,"title":null}},
    "y":{"field":"b","type":"quantitative","axis":{"orient":"right","values":[-15,-10,-5,0,5,10],"labels":false,"tickSize":-4,"tickColor":"#555555","domain":false,"grid":false,"title":null}}
   }}
 ],
 "resolve":{"axis":{"x":"independent","y":"independent"}}
},
{"width":435,"height":211,
 "title":{"text":"Center Differences","fontSize":14,"fontWeight":"bold","font":"Liberation Sans","color":"#000000","frame":"group","anchor":"middle","offset":-8,"baseline":"alphabetic"},
 "data":{"name":"d"},
 "layer":[
  {"mark":{"type":"line","color":"#0072BD","strokeWidth":2,"clip":true},
   "encoding":{
    "x":{"field":"t","type":"temporal","scale":{"type":"utc","domain":[{"year":2014,"month":1,"date":3,"utc":true},{"year":2014,"month":12,"date":28,"utc":true}]},
     "axis":{"orient":"bottom","values":[{"year":2014,"month":2,"date":1,"utc":true},{"year":2014,"month":3,"date":1,"utc":true},{"year":2014,"month":4,"date":1,"utc":true},{"year":2014,"month":5,"date":1,"utc":true},{"year":2014,"month":6,"date":1,"utc":true},{"year":2014,"month":7,"date":1,"utc":true},{"year":2014,"month":8,"date":1,"utc":true},{"year":2014,"month":9,"date":1,"utc":true},{"year":2014,"month":10,"date":1,"utc":true},{"year":2014,"month":11,"date":1,"utc":true},{"year":2014,"month":12,"date":1,"utc":true}],"labelExpr":"utcFormat(datum.value, '%b')","labelFontSize":12,"labelColor":"#262626","tickSize":-4,"tickColor":"#555555","labelPadding":14,"domain":false,"grid":false,"labelOverlap":false,"labelFlush":false,"title":"2014","titleFontSize":12,"titleFontWeight":"normal","titleColor":"#262626","titleX":425,"titleY":37,"titleAlign":"right","titleBaseline":"alphabetic"}},
    "y":{"field":"c","type":"quantitative","scale":{"domain":[-9.55,9.75],"nice":false,"zero":false},
     "axis":{"orient":"left","values":[-5,0,5],"labelFontSize":12,"labelColor":"#262626","tickSize":-4,"tickColor":"#555555","labelPadding":11,"domain":false,"grid":false,"title":null}}
   }},
  {"mark":{"type":"rule","color":"#000000","strokeWidth":1},"encoding":{"y":{"datum":0,"type":"quantitative","axis":null}}},
  {"mark":{"type":"line","strokeOpacity":0,"clip":true},
   "encoding":{
    "x":{"field":"t","type":"temporal","scale":{"type":"utc"},"axis":{"orient":"top","values":[{"year":2014,"month":2,"date":1,"utc":true},{"year":2014,"month":3,"date":1,"utc":true},{"year":2014,"month":4,"date":1,"utc":true},{"year":2014,"month":5,"date":1,"utc":true},{"year":2014,"month":6,"date":1,"utc":true},{"year":2014,"month":7,"date":1,"utc":true},{"year":2014,"month":8,"date":1,"utc":true},{"year":2014,"month":9,"date":1,"utc":true},{"year":2014,"month":10,"date":1,"utc":true},{"year":2014,"month":11,"date":1,"utc":true},{"year":2014,"month":12,"date":1,"utc":true}],"labels":false,"tickSize":-4,"tickColor":"#555555","domain":false,"grid":false,"title":null}},
    "y":{"field":"c","type":"quantitative","axis":{"orient":"right","values":[-5,0,5],"labels":false,"tickSize":-4,"tickColor":"#555555","domain":false,"grid":false,"title":null}}
   }}
 ],
 "resolve":{"axis":{"x":"independent","y":"independent"}}
},
{"width":435,"height":211,
 "title":{"text":"Radius Differences","fontSize":14,"fontWeight":"bold","font":"Liberation Sans","color":"#000000","frame":"group","anchor":"middle","offset":-8,"baseline":"alphabetic"},
 "data":{"name":"d"},
 "layer":[
  {"mark":{"type":"line","color":"#0072BD","strokeWidth":2,"clip":true},
   "encoding":{
    "x":{"field":"t","type":"temporal","scale":{"type":"utc","domain":[{"year":2014,"month":1,"date":3,"utc":true},{"year":2014,"month":12,"date":28,"utc":true}]},
     "axis":{"orient":"bottom","values":[{"year":2014,"month":2,"date":1,"utc":true},{"year":2014,"month":3,"date":1,"utc":true},{"year":2014,"month":4,"date":1,"utc":true},{"year":2014,"month":5,"date":1,"utc":true},{"year":2014,"month":6,"date":1,"utc":true},{"year":2014,"month":7,"date":1,"utc":true},{"year":2014,"month":8,"date":1,"utc":true},{"year":2014,"month":9,"date":1,"utc":true},{"year":2014,"month":10,"date":1,"utc":true},{"year":2014,"month":11,"date":1,"utc":true},{"year":2014,"month":12,"date":1,"utc":true}],"labelExpr":"utcFormat(datum.value, '%b')","labelFontSize":12,"labelColor":"#262626","tickSize":-4,"tickColor":"#555555","labelPadding":14,"domain":false,"grid":false,"labelOverlap":false,"labelFlush":false,"title":"2014","titleFontSize":12,"titleFontWeight":"normal","titleColor":"#262626","titleX":425,"titleY":37,"titleAlign":"right","titleBaseline":"alphabetic"}},
    "y":{"field":"r","type":"quantitative","scale":{"domain":[-8.12,7.59],"nice":false,"zero":false},
     "axis":{"orient":"left","values":[-8,-6,-4,-2,0,2,4,6],"labelFontSize":12,"labelColor":"#262626","tickSize":-4,"tickColor":"#555555","labelPadding":11,"domain":false,"grid":false,"title":null}}
   }},
  {"mark":{"type":"rule","color":"#000000","strokeWidth":1},"encoding":{"y":{"datum":0,"type":"quantitative","axis":null}}},
  {"mark":{"type":"line","strokeOpacity":0,"clip":true},
   "encoding":{
    "x":{"field":"t","type":"temporal","scale":{"type":"utc"},"axis":{"orient":"top","values":[{"year":2014,"month":2,"date":1,"utc":true},{"year":2014,"month":3,"date":1,"utc":true},{"year":2014,"month":4,"date":1,"utc":true},{"year":2014,"month":5,"date":1,"utc":true},{"year":2014,"month":6,"date":1,"utc":true},{"year":2014,"month":7,"date":1,"utc":true},{"year":2014,"month":8,"date":1,"utc":true},{"year":2014,"month":9,"date":1,"utc":true},{"year":2014,"month":10,"date":1,"utc":true},{"year":2014,"month":11,"date":1,"utc":true},{"year":2014,"month":12,"date":1,"utc":true}],"labels":false,"tickSize":-4,"tickColor":"#555555","domain":false,"grid":false,"title":null}},
    "y":{"field":"r","type":"quantitative","axis":{"orient":"right","values":[-8,-6,-4,-2,0,2,4,6],"labels":false,"tickSize":-4,"tickColor":"#555555","domain":false,"grid":false,"title":null}}
   }}
 ],
 "resolve":{"axis":{"x":"independent","y":"independent"}}
}
],
"config":{"background":"#f0f0f0","font":"Liberation Sans","view":{"fill":"#ffffff","stroke":"#555555","strokeWidth":1},"axis":{"labelFont":"Liberation Sans","titleFont":"Liberation Sans","tickWidth":1}}
}
